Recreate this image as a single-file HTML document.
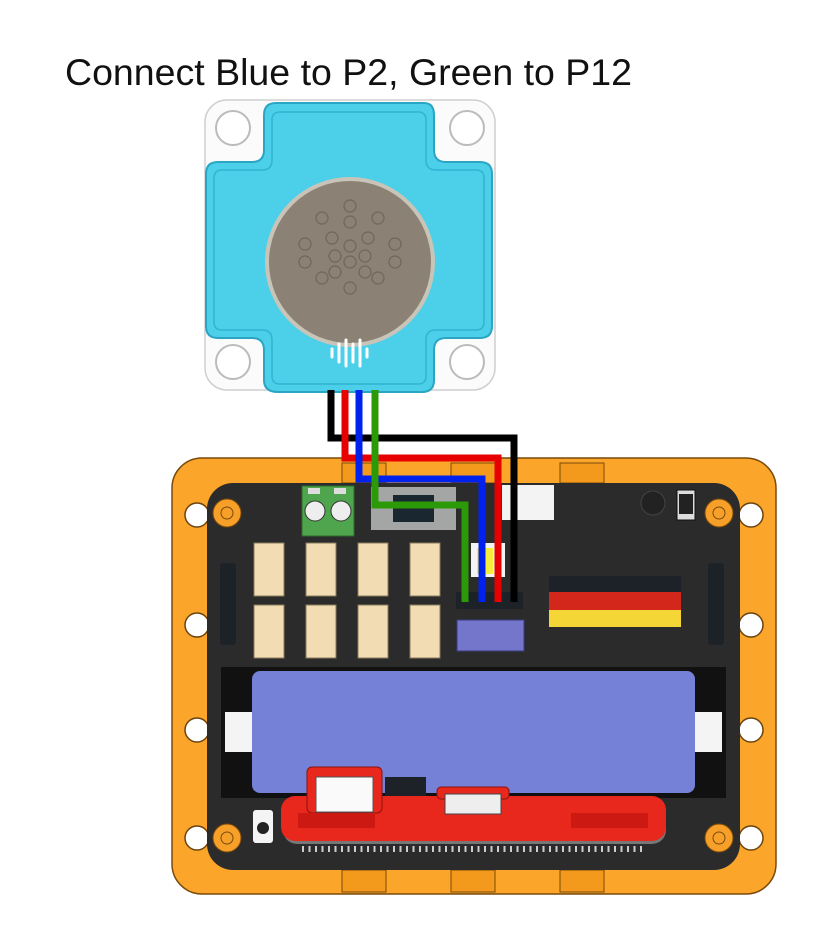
<!DOCTYPE html>
<html><head><style>html,body{margin:0;padding:0;background:#fff;width:834px;height:933px;overflow:hidden}</style></head><body>
<svg width="834" height="933" viewBox="0 0 834 933" xmlns="http://www.w3.org/2000/svg">
<text x="65" y="85" font-family="Liberation Sans, sans-serif" font-size="37.5" fill="#111">Connect Blue to P2, Green to P12</text>
<!-- module plate -->
<rect x="205" y="100" width="290" height="290" rx="22" fill="#fbfbfb" stroke="#cfcfcf" stroke-width="1.5"/>
<circle cx="233" cy="128" r="17" fill="#fff" stroke="#bbb" stroke-width="2"/>
<circle cx="467" cy="128" r="17" fill="#fff" stroke="#bbb" stroke-width="2"/>
<circle cx="233" cy="362" r="17" fill="#fff" stroke="#bbb" stroke-width="2"/>
<circle cx="467" cy="362" r="17" fill="#fff" stroke="#bbb" stroke-width="2"/>
<path d="M276,103 H424 Q434,103 434,115 V150 Q434,162 446,162 H480 Q492,162 492,174 V326 Q492,338 480,338 H446 Q434,338 434,350 V380 Q434,392 422,392 H278 Q264,392 264,380 V350 Q264,338 252,338 H218 Q206,338 206,326 V174 Q206,162 218,162 H252 Q264,162 264,150 V115 Q264,103 276,103 Z" fill="#4ccfe9" stroke="#2aa6c4" stroke-width="2"/>
<path d="M280,112 H418 Q426,112 426,120 V160 Q426,170 436,170 H476 Q484,170 484,178 V322 Q484,330 476,330 H436 Q426,330 426,340 V376 Q426,384 418,384 H280 Q272,384 272,376 V340 Q272,330 262,330 H222 Q214,330 214,322 V178 Q214,170 222,170 H262 Q272,170 272,160 V120 Q272,112 280,112 Z" fill="none" stroke="#2fb4d2" stroke-width="1.5"/>
<circle cx="350" cy="262" r="85" fill="#c9c4b8"/>
<circle cx="350" cy="262" r="81" fill="#8b8275"/>
<g fill="none" stroke="#6f6659" stroke-width="1.2">
<circle cx="350" cy="206" r="6"/><circle cx="322" cy="218" r="6"/><circle cx="350" cy="222" r="6"/><circle cx="378" cy="218" r="6"/>
<circle cx="305" cy="244" r="6"/><circle cx="332" cy="238" r="6"/><circle cx="368" cy="238" r="6"/><circle cx="395" cy="244" r="6"/>
<circle cx="350" cy="246" r="6"/><circle cx="335" cy="256" r="6"/><circle cx="365" cy="256" r="6"/><circle cx="350" cy="262" r="6"/>
<circle cx="305" cy="262" r="6"/><circle cx="395" cy="262" r="6"/><circle cx="335" cy="272" r="6"/><circle cx="365" cy="272" r="6"/>
<circle cx="322" cy="278" r="6"/><circle cx="378" cy="278" r="6"/><circle cx="350" cy="288" r="6"/>
</g>
<g stroke="#fff" stroke-width="3" stroke-linecap="round">
<line x1="332" y1="349" x2="332" y2="357"/><line x1="339" y1="344" x2="339" y2="362"/><line x1="346" y1="340" x2="346" y2="366"/><line x1="353" y1="344" x2="353" y2="362"/><line x1="360" y1="340" x2="360" y2="366"/><line x1="367" y1="349" x2="367" y2="357"/>
</g>
<!-- orange frame -->
<rect x="172" y="458" width="604" height="436" rx="30" fill="#fba62a" stroke="#7a4a0a" stroke-width="1.5"/>
<g fill="#fff" stroke="#6b4410" stroke-width="1.5">
<circle cx="197" cy="515" r="12"/><circle cx="197" cy="625" r="12"/><circle cx="197" cy="730" r="12"/><circle cx="197" cy="838" r="12"/>
<circle cx="751" cy="515" r="12"/><circle cx="751" cy="625" r="12"/><circle cx="751" cy="730" r="12"/><circle cx="751" cy="838" r="12"/>
</g>
<g fill="#f39a1c" stroke="#7a4a0a" stroke-width="1">
<rect x="342" y="463" width="44" height="20"/><rect x="451" y="463" width="44" height="20"/><rect x="560" y="463" width="44" height="20"/>
<rect x="342" y="870" width="44" height="22"/><rect x="451" y="870" width="44" height="22"/><rect x="560" y="870" width="44" height="22"/>
</g>
<!-- board -->
<rect x="207" y="483" width="533" height="387" rx="26" fill="#2b2b2b"/>
<circle cx="227" cy="513" r="14" fill="#f6a02a" stroke="#7a4a0a"/><circle cx="227" cy="513" r="6" fill="#f6a02a" stroke="#7a4a0a"/>
<circle cx="719" cy="513" r="14" fill="#f6a02a" stroke="#7a4a0a"/><circle cx="719" cy="513" r="6" fill="#f6a02a" stroke="#7a4a0a"/>
<circle cx="227" cy="838" r="14" fill="#f6a02a" stroke="#7a4a0a"/><circle cx="227" cy="838" r="6" fill="#f6a02a" stroke="#7a4a0a"/>
<circle cx="719" cy="838" r="14" fill="#f6a02a" stroke="#7a4a0a"/><circle cx="719" cy="838" r="6" fill="#f6a02a" stroke="#7a4a0a"/>
<!-- green terminal -->
<rect x="302" y="486" width="52" height="50" fill="#4ea54d" stroke="#2d6a2c"/>
<rect x="308" y="488" width="12" height="6" fill="#ddd"/><rect x="334" y="488" width="12" height="6" fill="#ddd"/>
<circle cx="315" cy="511" r="10" fill="#eee" stroke="#333"/><circle cx="341" cy="511" r="10" fill="#eee" stroke="#333"/>
<rect x="371" y="487" width="85" height="43" fill="#a3a6a4"/>
<rect x="393" y="495" width="41" height="27" fill="#1a2630"/>
<rect x="502" y="485" width="52" height="35" fill="#f3f3f3"/>
<circle cx="653" cy="503" r="12" fill="#222" stroke="#444"/>
<rect x="677" y="490" width="18" height="30" fill="#ddd" stroke="#111"/><rect x="679" y="494" width="14" height="20" fill="#222"/>
<!-- side headers -->
<rect x="220" y="563" width="16" height="82" rx="3" fill="#1d2228"/>
<rect x="708" y="563" width="16" height="82" rx="3" fill="#1d2228"/>
<!-- white connectors -->
<g fill="#f2dcb4" stroke="#8a7a5a">
<rect x="254" y="543" width="30" height="53"/><rect x="306" y="543" width="30" height="53"/><rect x="358" y="543" width="30" height="53"/><rect x="410" y="543" width="30" height="53"/>
<rect x="254" y="605" width="30" height="53"/><rect x="306" y="605" width="30" height="53"/><rect x="358" y="605" width="30" height="53"/><rect x="410" y="605" width="30" height="53"/>
</g>
<rect x="471" y="543" width="34" height="34" fill="#f4f4f4"/><rect x="477" y="548" width="16" height="26" fill="#f6ec3a"/>
<rect x="456" y="592" width="67" height="17" rx="2" fill="#1d2228"/>
<rect x="457" y="620" width="67" height="31" fill="#7476cc" stroke="#3a3c80"/>
<!-- pin headers -->
<rect x="549" y="576" width="132" height="16" fill="#1d2228"/>
<rect x="549" y="592" width="132" height="18" fill="#d4271c"/>
<rect x="549" y="610" width="132" height="17" fill="#f4d636"/>
<!-- battery holder -->
<rect x="221" y="667" width="505" height="131" fill="#111"/>
<rect x="252" y="671" width="443" height="122" rx="8" fill="#7481d6"/>
<rect x="225" y="712" width="27" height="40" fill="#f4f4f4"/><rect x="695" y="712" width="27" height="40" fill="#f4f4f4"/>
<!-- red microbit -->
<rect x="283" y="798" width="383" height="46" rx="14" fill="#777"/>
<rect x="281" y="796" width="385" height="45" rx="14" fill="#e8281d"/>
<rect x="307" y="767" width="75" height="46" rx="5" fill="#e8281d" stroke="#8a120d"/>
<rect x="316" y="777" width="57" height="35" fill="#fafafa" stroke="#555"/>
<rect x="385" y="777" width="41" height="19" fill="#1d2228"/>
<rect x="437" y="787" width="72" height="12" rx="4" fill="#e8281d" stroke="#8a120d"/>
<rect x="445" y="794" width="56" height="20" fill="#eee" stroke="#444"/>
<rect x="298" y="813" width="77" height="15" fill="#cc1a12"/><rect x="571" y="813" width="77" height="15" fill="#cc1a12"/>
<rect x="253" y="810" width="20" height="33" rx="3" fill="#f4f4f4"/><circle cx="263" cy="828" r="6" fill="#222"/>
<line x1="302" y1="849" x2="645" y2="849" stroke="#ccc" stroke-dasharray="2 4.5" stroke-width="6"/>
<!-- wires -->
<g fill="none" stroke-width="7" stroke-linejoin="miter">
<polyline points="331,390 331,438 514,438 514,602" stroke="#000"/>
<polyline points="345,390 345,458 498,458 498,602" stroke="#e60000"/>
<polyline points="359,390 359,479 482,479 482,602" stroke="#0022ee"/>
<polyline points="375,390 375,505 465,505 465,602" stroke="#2c9a08"/>
</g>
</svg>
</body></html>
